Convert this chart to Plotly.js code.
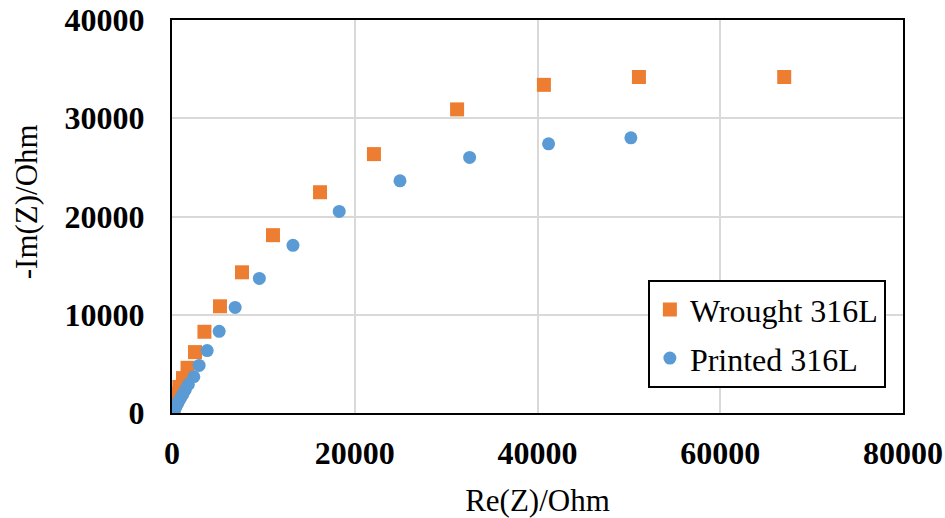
<!DOCTYPE html>
<html>
<head>
<meta charset="utf-8">
<script src="https://cdn.plot.ly/plotly-3.0.1.min.js"></script>
<style>html,body{margin:0;padding:0;background:#fff;}#chart{width:945px;height:518px;}</style>
</head>
<body>
<div id="chart"></div>
<script>
// Wrought 316L (orange squares)
const wroughtRe = [67000, 51100, 40700, 31200, 22100, 16200, 11050, 7660, 5250, 3550, 2520, 1700, 1200, 800, 560, 390, 270, 190, 130, 90, 60, 40, 25];
const wroughtIm = [34200, 34200, 33400, 30900, 26350, 22470, 18100, 14320, 10860, 8270, 6200, 4600, 3550, 2650, 1950, 1400, 1000, 700, 480, 320, 200, 120, 60];
// Printed 316L (blue circles)
const printedRe = [50220, 41210, 32570, 24950, 18300, 13240, 9560, 6910, 5160, 3850, 2970, 2390, 1790, 1450, 1180, 950, 760, 610, 480, 380, 300, 230, 170, 120, 80, 50, 30];
const printedIm = [28010, 27400, 26010, 23630, 20520, 17070, 13700, 10750, 8310, 6350, 4840, 3690, 2900, 2350, 1900, 1530, 1220, 970, 760, 590, 450, 340, 250, 170, 110, 65, 30];

const seriesNames = ["Wrought 316L", "Printed 316L"];
const xTicks = [0, 20000, 40000, 60000, 80000];
const yTicks = [0, 10000, 20000, 30000, 40000];

const serif = "Liberation Serif, Times New Roman, serif";

const traces = [
  {
    x: wroughtRe, y: wroughtIm, name: seriesNames[0], type: "scatter", mode: "markers",
    legendgroup: "a",
    marker: {symbol: "square", size: 14, color: "#ED7D31"}
  },
  {
    x: printedRe, y: printedIm, name: seriesNames[1], type: "scatter", mode: "markers",
    legendgroup: "b",
    marker: {symbol: "circle", size: 13, color: "#5B9BD5"}
  }
];

const layout = {
  width: 945, height: 518,
  margin: {l: 172, r: 42, t: 20, b: 105, pad: 0},
  paper_bgcolor: "#ffffff", plot_bgcolor: "#ffffff",
  showlegend: true,
  legend: {
    x: 0.651, y: 0.338, xanchor: "left", yanchor: "top",
    bgcolor: "#ffffff", bordercolor: "#000000", borderwidth: 2,
    font: {family: serif, size: 32, color: "#000000"},
    traceorder: "grouped", tracegroupgap: 4,
    itemwidth: 30
  },
  xaxis: {
    range: [0, 80000], tickvals: xTicks, ticktext: xTicks.map(String),
    showgrid: true, gridcolor: "#D9D9D9", gridwidth: 2,
    zeroline: false, showline: true, linecolor: "#000000", linewidth: 2, mirror: true,
    ticks: "", ticklabelstandoff: 11,
    tickfont: {family: serif, size: 32, color: "#000000", weight: "bold"},
    title: {text: "Re(Z)/Ohm", font: {family: serif, size: 31, color: "#000000"}, standoff: 23}
  },
  yaxis: {
    range: [0, 40000], tickvals: yTicks, ticktext: yTicks.map(String),
    showgrid: true, gridcolor: "#D9D9D9", gridwidth: 2,
    zeroline: false, showline: true, linecolor: "#000000", linewidth: 2, mirror: true,
    ticks: "", ticklabelstandoff: 19,
    tickfont: {family: serif, size: 32, color: "#000000", weight: "bold"}
  },
  annotations: [{
    text: "-Im(Z)/Ohm", xref: "paper", yref: "paper",
    x: -0.198, y: 0.537, xanchor: "center", yanchor: "middle",
    textangle: -90, showarrow: false,
    font: {family: serif, size: 31, color: "#000000"}
  }]
};

Plotly.newPlot("chart", traces, layout, {displayModeBar: false, staticPlot: true});
</script>
</body>
</html>
